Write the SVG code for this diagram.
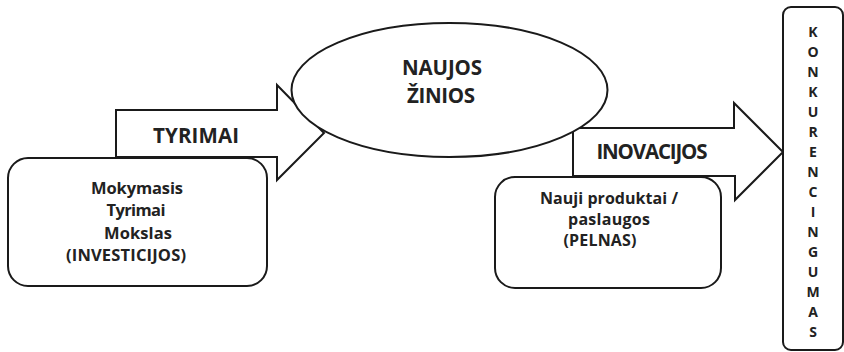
<svg xmlns="http://www.w3.org/2000/svg" width="844" height="352" viewBox="0 0 844 352">
<style>
.s{fill:#fff;stroke:#1a1a1a;stroke-width:2;stroke-linejoin:miter}
.t{font-family:"Open Sans","Noto Sans","Liberation Sans",sans-serif;font-weight:bold;fill:#222;text-anchor:middle}
.b{font-size:16.5px}
.p{font-size:16px}
.h{font-size:20.5px}
.k{font-size:14px}
</style>
<rect width="844" height="352" fill="#fff"/>
<g id="connectors">
<g id="arrow-tyrimai">
<path class="s" d="M116,110 H277 V85 L324,133 L277,180 V157 H116 Z"/>
<text class="t h" x="196" y="143" textLength="86" lengthAdjust="spacing">TYRIMAI</text>
</g>
<g id="arrow-inovacijos">
<path class="s" d="M573,128 H734 V103 L783,152 L735,200 V176 H573 Z"/>
<text class="t h" x="652" y="159" textLength="111" lengthAdjust="spacing">INOVACIJOS</text>
</g>
</g>
<g id="node-ziniai">
<ellipse class="s" cx="449.5" cy="90" rx="158" ry="67"/>
<text class="t h" x="442" y="75" textLength="80" lengthAdjust="spacing">NAUJOS</text>
<text class="t h" x="441" y="103" textLength="68" lengthAdjust="spacing">ŽINIOS</text>
</g>
<g id="node-mokymasis">
<rect class="s" x="8" y="158" width="259" height="128" rx="20"/>
<text class="t b" x="137" y="194" textLength="92" lengthAdjust="spacing">Mokymasis</text>
<text class="t b" x="136" y="216" textLength="59" lengthAdjust="spacing">Tyrimai</text>
<text class="t b" x="138" y="239" textLength="68" lengthAdjust="spacing">Mokslas</text>
<text class="t b" x="126" y="261" textLength="120" lengthAdjust="spacing">(INVESTICIJOS)</text>
</g>
<g id="node-produktai">
<rect class="s" x="495" y="177" width="226" height="111" rx="20"/>
<text class="t p" x="609" y="204" textLength="138" lengthAdjust="spacing">Nauji produktai /</text>
<text class="t p" x="609" y="225" textLength="82" lengthAdjust="spacing">paslaugos</text>
<text class="t p" x="600" y="246" textLength="73" lengthAdjust="spacing">(PELNAS)</text>
</g>
<g id="node-konkurencingumas">
<rect class="s" x="783" y="7" width="60" height="343" rx="8"/>
<g class="t k">
<text x="813" y="37">K</text>
<text x="813" y="57">O</text>
<text x="813" y="77">N</text>
<text x="813" y="97">K</text>
<text x="813" y="117">U</text>
<text x="813" y="137">R</text>
<text x="813" y="157">E</text>
<text x="813" y="177">N</text>
<text x="813" y="197">C</text>
<text x="813" y="217">I</text>
<text x="813" y="237">N</text>
<text x="813" y="257">G</text>
<text x="813" y="277">U</text>
<text x="813" y="297">M</text>
<text x="813" y="317">A</text>
<text x="813" y="337">S</text>
</g>
</g>
</svg>
